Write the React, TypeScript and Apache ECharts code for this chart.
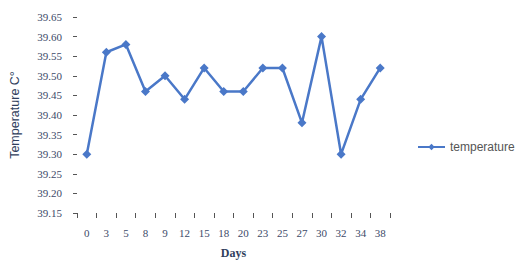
import React, { useEffect, useRef } from "react";
import * as echarts from "echarts";

const days = ["0", "3", "5", "8", "9", "12", "15", "18", "20", "23", "25", "27", "30", "32", "34", "38"];
const temperature = [39.3, 39.56, 39.58, 39.46, 39.5, 39.44, 39.52, 39.46, 39.46, 39.52, 39.52, 39.38, 39.6, 39.3, 39.44, 39.52];
const seriesName = "temperature";
const yMin = 39.15;
const yMax = 39.65;
const yStep = 0.05;

export default function App() {
  const ref = useRef<HTMLDivElement>(null);
  useEffect(() => {
    document.body.style.margin = "0";
    if (!ref.current) return;
    const chart = echarts.init(ref.current, undefined, { renderer: "svg" });
    const font = "Liberation Serif";
    const color = "#4a78c8";
    chart.setOption({
      animation: false,
      backgroundColor: "#ffffff",
      grid: { left: 73, right: 125, top: 17, bottom: 43 },
      legend: {
        data: [seriesName],
        left: 412,
        top: 136,
        itemWidth: 27,
        itemHeight: 8,
        itemGap: 4,
        textStyle: { fontFamily: "Liberation Sans", fontSize: 12, color: "#555" },
      },
      xAxis: {
        type: "category",
        data: days,
        boundaryGap: true,
        name: "Days",
        nameLocation: "middle",
        nameGap: 34,
        nameTextStyle: { fontFamily: font, fontSize: 12, fontWeight: "bold", color: "#2f3e5c" },
        axisLine: { show: false },
        axisTick: { show: true, length: 5, lineStyle: { color: "#555" } },
        axisLabel: { fontFamily: font, fontSize: 11, color: "#3c4a68", margin: 14, interval: 0 },
        splitLine: { show: false },
      },
      yAxis: {
        type: "value",
        min: yMin,
        max: yMax,
        interval: yStep,
        name: "Temperature C°",
        nameLocation: "middle",
        nameGap: 56,
        nameTextStyle: { fontFamily: "Liberation Sans", fontSize: 12.5, color: "#2f3e5c" },
        axisLine: { show: false },
        axisTick: { show: true, length: 4, lineStyle: { color: "#555" } },
        axisLabel: {
          fontFamily: font,
          fontSize: 11,
          color: "#3c4a68",
          margin: 15,
          formatter: (v: number) => v.toFixed(2),
        },
        splitLine: { show: false },
      },
      series: [
        {
          name: seriesName,
          type: "line",
          data: temperature,
          symbol: "diamond",
          symbolSize: 9,
          lineStyle: { color, width: 2.5 },
          itemStyle: { color },
        },
      ],
    });
    return () => chart.dispose();
  }, []);
  return <div ref={ref} style={{ width: 515, height: 264 }} />;
}
